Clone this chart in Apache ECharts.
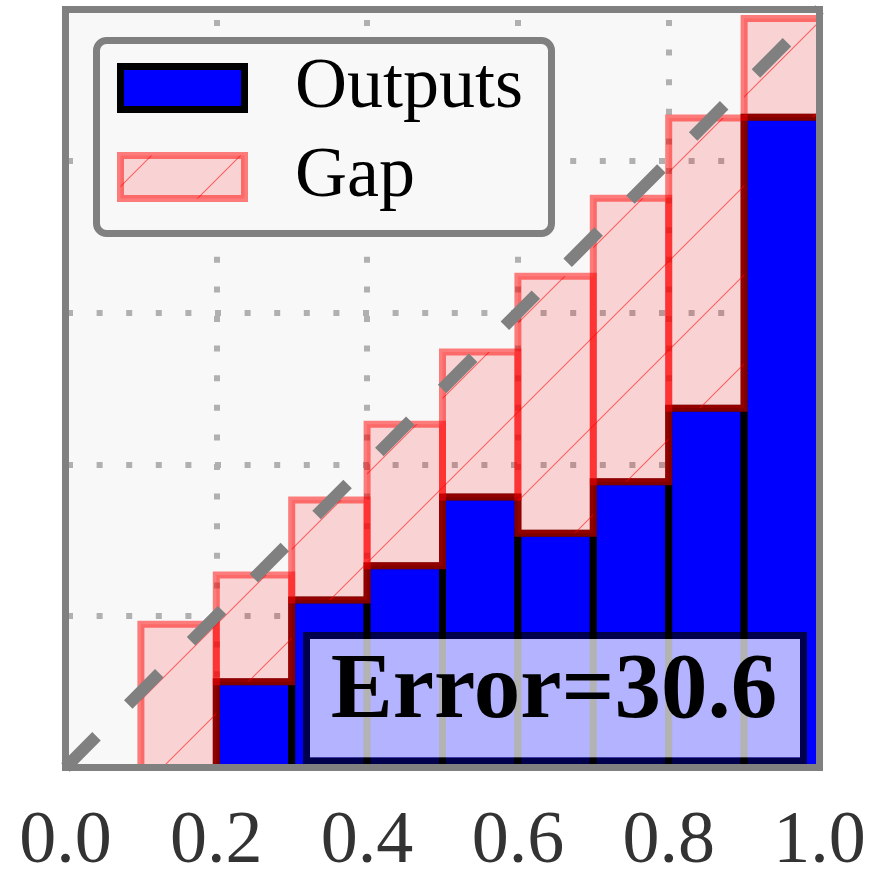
<!DOCTYPE html>
<html>
<head>
<meta charset="utf-8">
<script src="https://cdn.jsdelivr.net/npm/echarts@6/dist/echarts.min.js"></script>
<style>
html,body{margin:0;padding:0;background:#ffffff;}
#chart{width:881px;height:874px;}
</style>
</head>
<body>
<div id="chart"></div>
<script>
// ---- data ----
const binLeft = [0.0, 0.1, 0.2, 0.3, 0.4, 0.5, 0.6, 0.7, 0.8, 0.9];
const binWidth = 0.1;
const accuracy = [0, 0, 0.113, 0.221, 0.266, 0.357, 0.309, 0.377, 0.474, 0.858];
const confidence = [0, 0.189, 0.254, 0.353, 0.453, 0.548, 0.648, 0.751, 0.857, 0.988];
const xTickLabels = ['0.0', '0.2', '0.4', '0.6', '0.8', '1.0'];
const diagX = [0, 1];
const diagY = [0, 1];
const errorValue = 30.6;
const legendNames = ['Outputs', 'Gap'];

// ---- hatch pattern ----
const P = 89;
const hatch = document.createElement('canvas');
hatch.width = P; hatch.height = P;
(function () {
  const c = hatch.getContext('2d');
  c.strokeStyle = 'rgba(255,0,0,0.55)';
  c.lineWidth = 1.1;
  c.beginPath();
  c.moveTo(-2, 42); c.lineTo(42, -2);
  c.moveTo(38, 91); c.lineTo(91, 38);
  c.stroke();
})();
const hatchFill = { image: hatch, repeat: 'repeat' };

const BLUE = '#0000ff';
const PINK = 'rgba(255,0,0,0.15)';
const RED_EDGE = 'rgba(255,0,0,0.5)';

const outData = binLeft.map((b, i) => [b, b + binWidth, accuracy[i]]);
const gapData = binLeft.map((b, i) => [b, b + binWidth, accuracy[i], confidence[i]]);

const chart = echarts.init(document.getElementById('chart'), null, { renderer: 'canvas' });

function rectFrom(api, xa, ya, xb, yb) {
  const p0 = api.coord([xa, ya]);
  const p1 = api.coord([xb, yb]);
  return {
    x: Math.min(p0[0], p1[0]), y: Math.min(p0[1], p1[1]),
    width: Math.abs(p1[0] - p0[0]), height: Math.abs(p1[1] - p0[1])
  };
}

const option = {
  animation: false,
  backgroundColor: '#ffffff',
  grid: {
    left: 65.5, top: 9.5, width: 754, height: 758,
    containLabel: false, outerBoundsMode: 'none',
    show: true, backgroundColor: '#f8f8f8', borderWidth: 0
  },
  xAxis: {
    type: 'value', min: 0, max: 1, interval: 0.2,
    axisLine: { show: false }, axisTick: { show: false },
    axisLabel: {
      show: true, margin: 38, fontSize: 74, fontFamily: 'Liberation Serif', color: '#333333',
      showMinLabel: true, showMaxLabel: true,
      formatter: v => xTickLabels[Math.round(v / 0.2)]
    },
    splitLine: { show: true, lineStyle: { color: '#b0b0b0', width: 6, type: [6, 23.6], dashOffset: 19.1, cap: 'butt' } }
  },
  yAxis: {
    type: 'value', min: 0, max: 1, interval: 0.2,
    axisLine: { show: false }, axisTick: { show: false }, axisLabel: { show: false },
    splitLine: { show: true, lineStyle: { color: '#b0b0b0', width: 6, type: [6, 23.6], dashOffset: 28.1, cap: 'butt' } }
  },
  series: [
    {
      name: legendNames[0], type: 'custom', z: 2,
      encode: { x: [0, 1], y: [2] },
      data: outData,
      renderItem: function (params, api) {
        const y = api.value(2);
        if (!(y > 0)) return null;
        return {
          type: 'rect',
          shape: rectFrom(api, api.value(0), 0, api.value(1), y),
          style: { fill: BLUE, stroke: '#000000', lineWidth: 7 }
        };
      }
    },
    {
      name: legendNames[1], type: 'custom', z: 3,
      encode: { x: [0, 1], y: [2, 3] },
      data: gapData,
      renderItem: function (params, api) {
        const a = api.value(2), c = api.value(3);
        if (!(c > a)) return null;
        const shape = rectFrom(api, api.value(0), a, api.value(1), c);
        return {
          type: 'group',
          children: [
            { type: 'rect', shape: shape, style: { fill: PINK, stroke: null } },
            { type: 'rect', shape: shape, style: { fill: hatchFill, stroke: null } },
            { type: 'rect', shape: shape, style: { fill: null, stroke: RED_EDGE, lineWidth: 7 } }
          ]
        };
      }
    },
    {
      name: 'diag', type: 'line', z: 4,
      data: diagX.map((x, i) => [x, diagY[i]]),
      showSymbol: false, symbol: 'none',
      lineStyle: { color: '#808080', width: 12, type: [44, 45], cap: 'butt' },
      silent: true
    },
    {
      name: 'frame', type: 'custom', z: 100,
      encode: { x: [0, 2], y: [1, 3] },
      data: [[0, 0, 1, 1]],
      clip: false,
      renderItem: function (params, api) {
        return {
          type: 'rect',
          shape: rectFrom(api, api.value(0), api.value(1), api.value(2), api.value(3)),
          style: { fill: null, stroke: '#808080', lineWidth: 7 }
        };
      }
    }
  ],
  graphic: [
    // legend
    { type: 'rect', z: 50, shape: { x: 96.5, y: 40.5, width: 455, height: 193, r: 10 },
      style: { fill: '#f8f8f8', stroke: '#808080', lineWidth: 7 } },
    { type: 'rect', z: 51, shape: { x: 120.5, y: 66.5, width: 124, height: 43 },
      style: { fill: BLUE, stroke: '#000000', lineWidth: 7 } },
    { type: 'rect', z: 51, shape: { x: 120.5, y: 155.5, width: 124, height: 43 },
      style: { fill: PINK, stroke: null } },
    { type: 'rect', z: 51, shape: { x: 120.5, y: 155.5, width: 124, height: 43 },
      style: { fill: hatchFill, stroke: null } },
    { type: 'rect', z: 51, shape: { x: 120.5, y: 155.5, width: 124, height: 43 },
      style: { fill: null, stroke: RED_EDGE, lineWidth: 7 } },
    { type: 'text', z: 52, x: 295, y: 88.5,
      style: { text: legendNames[0], fill: '#000000', font: '72px "Liberation Serif"', textAlign: 'left', textVerticalAlign: 'middle', verticalAlign: 'middle' } },
    { type: 'text', z: 52, x: 295, y: 177,
      style: { text: legendNames[1], fill: '#000000', font: '72px "Liberation Serif"', textAlign: 'left', textVerticalAlign: 'middle', verticalAlign: 'middle' } },
    // error box: fill inset, edge drawn separately
    { type: 'rect', z: 60, shape: { x: 310, y: 639, width: 490, height: 118.5 },
      style: { fill: 'rgba(255,255,255,0.7)', stroke: null } },
    { type: 'rect', z: 60, shape: { x: 306.5, y: 635.5, width: 497, height: 125.5 },
      style: { fill: null, stroke: 'rgba(0,0,0,0.7)', lineWidth: 7 } },
    { type: 'text', z: 61, x: 554, y: 693,
      style: { text: 'Error=' + errorValue.toFixed(1), fill: '#000000', font: 'bold 93px "Liberation Serif"', textAlign: 'center', textVerticalAlign: 'middle', verticalAlign: 'middle' } }
  ]
};
chart.setOption(option);
</script>
</body>
</html>
